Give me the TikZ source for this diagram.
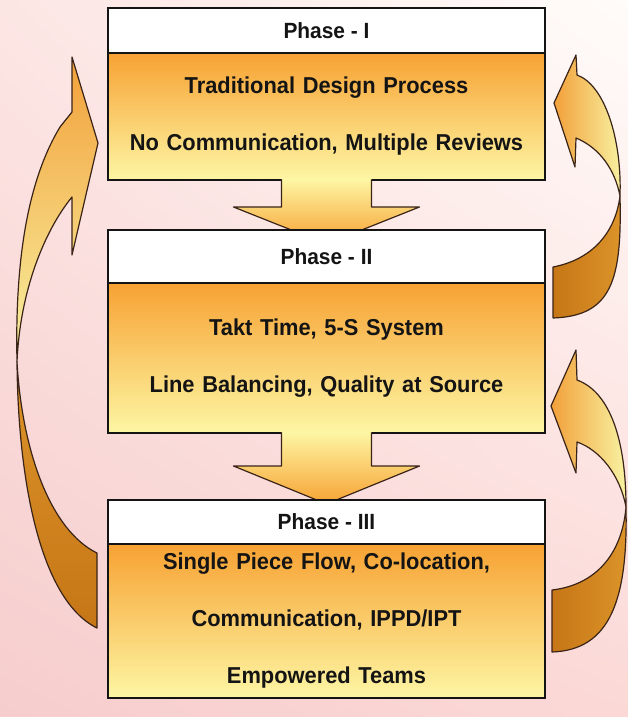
\documentclass[tikz,border=0pt]{standalone}
\usepackage{fontspec}
\setmainfont{Liberation Sans}[FakeStretch=0.95]
\usepackage{tikz}
\usetikzlibrary{positioning,shadings}

\definecolor{bgwhite}{HTML}{FFFCFA}
\definecolor{bgpink}{HTML}{FCE6E4}
\definecolor{bgdeep}{HTML}{F6CDCD}
\definecolor{bgrose}{HTML}{FBD8D6}
\definecolor{boxorange}{HTML}{F7A233}
\definecolor{boxyellow}{HTML}{FDF6A4}
\definecolor{curlorange}{HTML}{F2A03A}
\definecolor{curlyellow}{HTML}{F8F2A2}
\definecolor{curldark}{HTML}{C67616}
\definecolor{curllight}{HTML}{DC942A}
\definecolor{rimbrown}{HTML}{3A2418}
\definecolor{ink}{HTML}{141414}

\tikzstyle{title} = [draw=ink, line width=1.5pt, fill=white, outer sep=0pt,
  inner sep=0pt, minimum width=437pt, text=ink,
  font=\fontsize{22}{26}\selectfont\bfseries]
\tikzstyle{body} = [draw=ink, line width=1.5pt, top color=boxorange,
  bottom color=boxyellow, outer sep=0pt, inner sep=0pt, text width=437pt,
  align=center, text=ink, font=\fontsize{23}{57}\selectfont\bfseries]
\tikzstyle{rim} = [draw=rimbrown, line width=1.2pt, line join=round]

\begin{document}
\begin{tikzpicture}[x=1pt, y=-1pt]
	  \useasboundingbox (0,0) rectangle (628,717);
	  \shade[upper left=bgpink, upper right=bgwhite, lower left=bgdeep,
	    lower right=bgrose] (0,0) rectangle (628,717);

	  % phase I
	  \node (t1) at (326.5,30.5) [title, minimum height=45pt] {Phase - I};
	  \node (b1) [body, minimum height=127pt, below=0pt of t1]
	    {Traditional Design Process\\No Communication, Multiple Reviews};

	  \begin{scope}[shift={(b1.south)}]
	    \shade[top color=boxyellow, bottom color=boxorange]
	      (-45,-1) -- (-45,27) -- (-93,27) -- (0,64) -- (93,27) -- (45,27) -- (45,-1) -- cycle;
	    \draw[rim] (-45,-0.75) -- (-45,27) -- (-93,27) -- (0,64) -- (93,27) -- (45,27) -- (45,-0.75);
	  \end{scope}

	  % phase II
	  \node (t2) at (326.5,256.5) [title, minimum height=53pt] {Phase - II};
	  \node (b2) [body, minimum height=150pt, below=0pt of t2]
	    {Takt Time, 5-S System\\Line Balancing, Quality at Source};

	  \begin{scope}[shift={(b2.south)}]
	    \shade[top color=boxyellow, bottom color=boxorange]
	      (-45,-1) -- (-45,33) -- (-93,33) -- (0,71) -- (93,33) -- (45,33) -- (45,-1) -- cycle;
	    \draw[rim] (-45,-0.75) -- (-45,33) -- (-93,33) -- (0,71) -- (93,33) -- (45,33) -- (45,-0.75);
	  \end{scope}

	  % phase III
	  \node (t3) at (326.5,522) [title, minimum height=44pt] {Phase - III};
	  \node (b3) [body, minimum height=154pt, below=0pt of t3]
	    {Single Piece Flow, Co-location,\\Communication, IPPD/IPT\\Empowered Teams};

	  % feedback III -> I (left)
	  \draw[rim, top color=curlorange, bottom color=curlyellow]
	    (17,362) .. controls (15,270) and (25,185) .. (60,127) -- (72,112) -- (72,57)
	    -- (98,143) -- (72,255) -- (72,197) .. controls (45,230) and (20,290) .. (17,362) -- cycle;
	  \draw[rim, top color=curllight, bottom color=curldark]
	    (17,362) .. controls (18,480) and (40,600) .. (97,628) -- (97,553)
	    .. controls (50,530) and (22,450) .. (17,362) -- cycle;

	  % feedback II -> I (right)
	  \draw[rim, left color=curlorange, right color=curlyellow]
	    (576,55) -- (554,103) -- (575,167) -- (576,138) .. controls (600,148) and (615,170) .. (620,196)
	    .. controls (622,140) and (605,85) .. (577,75) -- cycle;
	  \draw[rim, left color=curldark, right color=curllight]
	    (620,196) .. controls (622,280) and (612,316) .. (553,318) -- (553,267)
	    .. controls (590,260) and (615,235) .. (620,196) -- cycle;

	  % feedback III -> II (right)
	  \draw[rim, left color=curlorange, right color=curlyellow]
	    (576,350) -- (551,406) -- (576,473) -- (577,442) .. controls (600,450) and (620,475) .. (626,507)
	    .. controls (626,440) and (610,392) .. (577,380) -- cycle;
	  \draw[rim, left color=curldark, right color=curllight]
	    (626,507) .. controls (628,600) and (610,650) .. (552,652) -- (552,590)
	    .. controls (595,585) and (622,555) .. (626,507) -- cycle;
	\end{tikzpicture}
\end{document}
